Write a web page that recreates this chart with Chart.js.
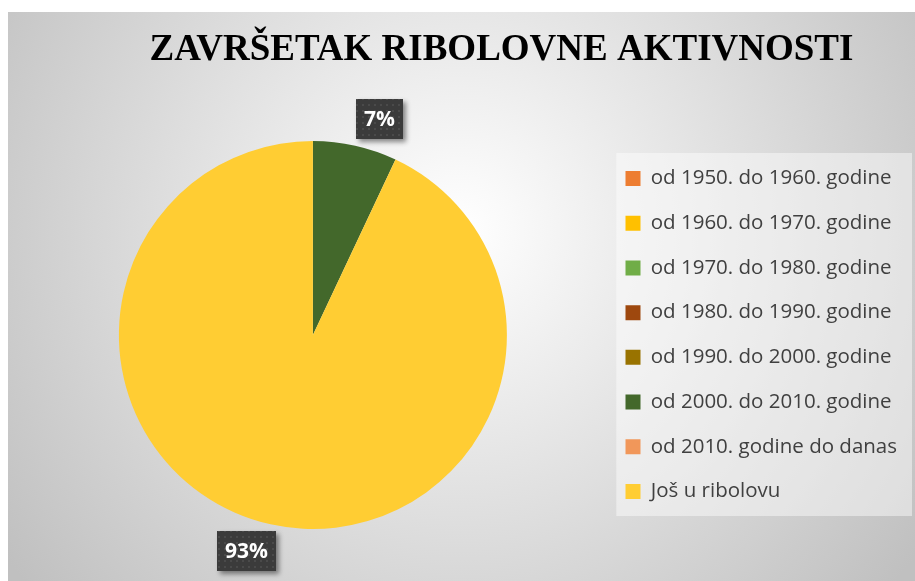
<!DOCTYPE html>
<html><head><meta charset="utf-8">
<script src="https://cdn.jsdelivr.net/npm/chart.js@4/dist/chart.umd.min.js"></script>
<style>html,body{margin:0;padding:0;background:#fff;overflow:hidden}#wrap{width:915px;height:581px}</style>
</head><body><div id="wrap"><canvas id="c" width="915" height="581"></canvas></div>
<script>
const chartTitle = 'ZAVRŠETAK RIBOLOVNE AKTIVNOSTI';
const categories = [
  'od 1950. do 1960. godine',
  'od 1960. do 1970. godine',
  'od 1970. do 1980. godine',
  'od 1980. do 1990. godine',
  'od 1990. do 2000. godine',
  'od 2000. do 2010. godine',
  'od 2010. godine do danas',
  'Još u ribolovu'
];
const values = [0, 0, 0, 0, 0, 7, 0, 93];
const sliceColors = ['#ED7D31', '#FFC000', '#70AD47', '#9E480E', '#997300', '#43682B', '#F1975A', '#FFCD33'];

const total = values.reduce((a, b) => a + b, 0);

const backgroundPlugin = {
  id: 'bg',
  beforeDraw(chart) {
    const ctx = chart.ctx;
    ctx.save();
    ctx.fillStyle = '#ffffff';
    ctx.fillRect(0, 0, chart.width, chart.height);
    const g = ctx.createRadialGradient(460, 230, 0, 460, 230, 560);
    g.addColorStop(0, '#ffffff');
    g.addColorStop(1, '#c0c0c0');
    ctx.fillStyle = g;
    ctx.fillRect(8, 12, chart.width - 8, chart.height - 12);
    const lg = chart.legend;
    if (lg) {
      ctx.fillStyle = 'rgba(255,255,255,0.45)';
      const x0 = lg.left + 15, x1 = chart.width - 3;
      ctx.fillRect(x0, chart.chartArea.top + 12, x1 - x0, chart.chartArea.bottom - chart.chartArea.top - 25);
    }
    ctx.restore();
  }
};

const titleShiftPlugin = {
  id: 'titleShift',
  afterLayout(chart) {
    const tb = chart.titleBlock;
    if (tb) {
      const shift = 501.5 - (tb.left + tb.right) / 2;
      tb.left += shift; tb.right += shift;
    }
  }
};

function makePattern(ctx) {
  const p = document.createElement('canvas');
  p.width = 6; p.height = 6;
  const pc = p.getContext('2d');
  pc.fillStyle = '#3b3b3b';
  pc.fillRect(0, 0, 6, 6);
  pc.fillStyle = '#4a4a4a';
  pc.fillRect(2, 2, 2, 2);
  return ctx.createPattern(p, 'repeat');
}

const dataLabelPlugin = {
  id: 'pieLabels',
  afterDatasetsDraw(chart) {
    const ctx = chart.ctx;
    const meta = chart.getDatasetMeta(0);
    const pattern = makePattern(ctx);
    meta.data.forEach((arc, i) => {
      const v = values[i];
      if (!v) return;
      const txt = Math.round(v / total * 100) + '%';
      const mid = (arc.startAngle + arc.endAngle) / 2 + 4.5 * Math.PI / 180;
      const r = arc.outerRadius + 32;
      const cx = arc.x + Math.cos(mid) * r;
      const cy = arc.y + Math.sin(mid) * r;
      ctx.save();
      ctx.font = 'bold 21px "Open Sans"';
      const tw = ctx.measureText(txt).width;
      const w = tw + 16, h = 40;
      ctx.shadowColor = 'rgba(0,0,0,0.45)';
      ctx.shadowBlur = 5;
      ctx.shadowOffsetX = 3;
      ctx.shadowOffsetY = 3;
      ctx.fillStyle = pattern;
      ctx.fillRect(Math.round(cx - w / 2), Math.round(cy - h / 2), Math.round(w), h);
      ctx.shadowColor = 'transparent';
      ctx.fillStyle = '#ffffff';
      ctx.textAlign = 'center';
      ctx.textBaseline = 'middle';
      ctx.fillText(txt, cx, cy + 1);
      ctx.restore();
    });
  }
};

new Chart(document.getElementById('c'), {
  type: 'pie',
  data: {
    labels: categories,
    datasets: [{
      data: values,
      backgroundColor: sliceColors,
      borderWidth: 0
    }]
  },
  options: {
    responsive: false,
    animation: false,
    devicePixelRatio: 1,
    layout: { padding: { left: 24.5, right: 8, top: 0, bottom: 52 } },
    plugins: {
      title: {
        display: true,
        text: chartTitle,
        color: '#000000',
        font: { family: '"Liberation Serif"', size: 37, weight: 'bold', lineHeight: 1.2 },
        padding: { top: 28, bottom: 68.6 }
      },
      legend: {
        position: 'right',
        align: 'center',
        fullSize: false,
        labels: {
          boxWidth: 15,
          boxHeight: 15,
          padding: 24.2,
          color: '#404040',
          font: { family: '"Open Sans"', size: 20.5 }
        }
      },
      tooltip: { enabled: false }
    }
  },
  plugins: [backgroundPlugin, titleShiftPlugin, dataLabelPlugin]
});
</script>
</body></html>
